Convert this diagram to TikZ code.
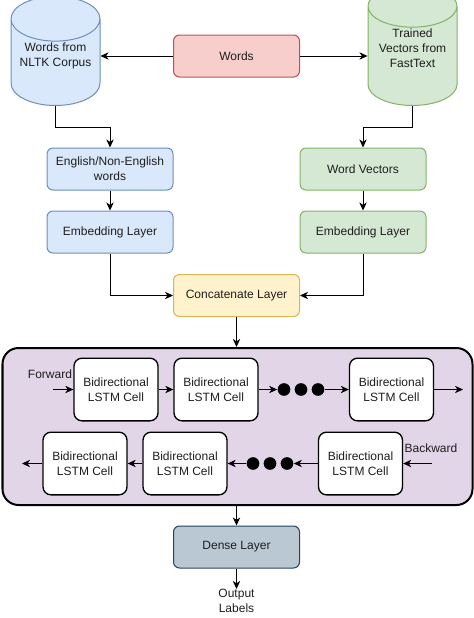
\documentclass[tikz,border=0pt]{standalone}
\usepackage{fontspec}
\setmainfont{Liberation Sans}
\usetikzlibrary{shapes.geometric,arrows.meta}

\tikzset{every picture/.style={line width=0.75pt}}
\tikzset{
  txt/.style={font=\fontsize{9}{11.2}\selectfont, text={rgb, 255:red, 30; green, 30; blue, 30 }, align=center},
  box/.style={txt, draw, rounded corners=4.5pt, minimum width=94.5pt, minimum height=31.5pt, inner sep=1pt},
  bluebox/.style={box, draw={rgb, 255:red, 108; green, 142; blue, 191 }, fill={rgb, 255:red, 218; green, 232; blue, 252 }},
  greenbox/.style={box, draw={rgb, 255:red, 130; green, 179; blue, 102 }, fill={rgb, 255:red, 213; green, 232; blue, 212 }},
  redbox/.style={box, draw={rgb, 255:red, 184; green, 84; blue, 80 }, fill={rgb, 255:red, 248; green, 206; blue, 204 }},
  yellowbox/.style={box, draw={rgb, 255:red, 214; green, 182; blue, 86 }, fill={rgb, 255:red, 255; green, 242; blue, 204 }},
  densebox/.style={box, draw={rgb, 255:red, 35; green, 68; blue, 93 }, fill={rgb, 255:red, 186; green, 200; blue, 211 }},
  cyl/.style={txt, shape=cylinder, shape border rotate=90, aspect=0.6, draw, minimum width=66.75pt, minimum height=80pt, inner sep=1pt, text depth=15.5pt},
  bluecyl/.style={cyl, draw={rgb, 255:red, 108; green, 142; blue, 191 }, fill={rgb, 255:red, 218; green, 232; blue, 252 }},
  greencyl/.style={cyl, draw={rgb, 255:red, 130; green, 179; blue, 102 }, fill={rgb, 255:red, 213; green, 232; blue, 212 }},
  lstmbox/.style={draw, line width=1.5pt, rounded corners=12pt, fill={rgb, 255:red, 225; green, 213; blue, 231 }, minimum width=352.5pt, minimum height=117.75pt},
  cellbox/.style={txt, draw, line width=1pt, fill=white, rounded corners=6pt, minimum width=63pt, minimum height=47pt, inner sep=1pt},
  dot/.style={circle, fill=black, inner sep=0pt, minimum size=9.5pt},
  arr/.style={-{Stealth[length=6pt,width=5.5pt,inset=1.8pt]}},
}

\begin{document}
\begin{tikzpicture}[x=0.75pt,y=0.75pt,yscale=-1]
\useasboundingbox (0,0) rectangle (474,618);

%Databases
\node[bluecyl, anchor=south] (nltk) at (55.5,106) {Words from\\NLTK Corpus};
\node[greencyl, anchor=south] (fasttext) at (412.5,106) {Trained\\Vectors from\\FastText};

%Input branches
\node[redbox] (words) at (236.5,56) {Words};
\node[bluebox] (english) at (110,169) {English/Non-English\\words};
\node[greenbox] (wordvec) at (363,169) {Word Vectors};
\node[bluebox] (embleft) at (110,232) {Embedding Layer};
\node[greenbox] (embright) at (363,232) {Embedding Layer};
\node[yellowbox] (concat) at (236.5,295.5) {Concatenate Layer};

%BiLSTM block
\node[lstmbox] (bilstm) at (237.5,426.5) {};
\node[cellbox] (fwdone) at (116,389.5) {Bidirectional\\LSTM Cell};
\node[cellbox] (fwdtwo) at (216,389.5) {Bidirectional\\LSTM Cell};
\node[cellbox] (fwdthree) at (391.5,389.5) {Bidirectional\\LSTM Cell};
\foreach \x/\n in {284/a,301/b,318/c}
  \node[dot] (fwddot\n) at (\x,389.5) {};
\node[cellbox] (bwdone) at (85,463.5) {Bidirectional\\LSTM Cell};
\node[cellbox] (bwdtwo) at (185,463.5) {Bidirectional\\LSTM Cell};
\node[cellbox] (bwdthree) at (360.5,463.5) {Bidirectional\\LSTM Cell};
\foreach \x/\n in {253/a,270/b,287/c}
  \node[dot] (bwddot\n) at (\x,463.5) {};
\coordinate (fwdin) at (53,389.5);
\coordinate (fwdout) at (463,389.5);
\coordinate (bwdin) at (432,463.5);
\coordinate (bwdout) at (22,463.5);
% Text Node
\node[txt] (fwdlabel) at (50,374) {Forward};
% Text Node
\node[txt] (bwdlabel) at (431,448) {Backward};

%Output
\node[densebox] (dense) at (236.5,547) {Dense Layer};
\node[txt, anchor=north, inner sep=0pt] (output) at (236.5,589) {Output\\Labels};

%Connectors
\draw[arr] (words) -- (words -| nltk.east);
\draw[arr] (words) -- (words -| fasttext.west);
\draw[arr] (nltk.south) -- ++(0,21) -| (english.north);
\draw[arr] (fasttext.south) -- ++(0,21) -| (wordvec.north);
\draw[arr] (english) -- (embleft);
\draw[arr] (wordvec) -- (embright);
\draw[arr] (embleft) |- (concat);
\draw[arr] (embright) |- (concat);
\draw[arr] (concat.south) -- (concat.south |- bilstm.north);
\draw[arr] (fwdin) -- (fwdone);
\draw[arr] (fwdone) -- (fwdtwo);
\draw[arr] (fwdtwo) -- (fwddota);
\draw[arr] (fwddotc) -- (fwdthree);
\draw[arr] (fwdthree) -- (fwdout);
\draw[arr] (bwdin) -- (bwdthree);
\draw[arr] (bwdthree) -- (bwddotc);
\draw[arr] (bwddota) -- (bwdtwo);
\draw[arr] (bwdtwo) -- (bwdone);
\draw[arr] (bwdone) -- (bwdout);
\draw[arr] (dense.north |- bilstm.south) -- (dense);
\draw[arr] (dense) -- (output);
\end{tikzpicture}
\end{document}
